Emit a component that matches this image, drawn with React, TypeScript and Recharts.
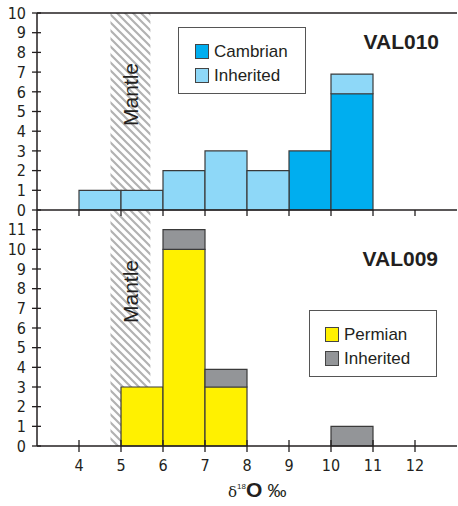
import { BarChart, Bar, XAxis, YAxis, ReferenceArea, ReferenceLine, Label, Legend } from 'recharts'

// bins of δ18O (‰), one unit wide, from 3 to 13
const binCenters = [3.5, 4.5, 5.5, 6.5, 7.5, 8.5, 9.5, 10.5, 11.5, 12.5]
const xTicks = [4, 5, 6, 7, 8, 9, 10, 11, 12]

// VAL010
const val010Cambrian = [0, 0, 0, 0, 0, 0, 3, 5.9, 0, 0]
const val010Inherited = [0, 1, 1, 2, 3, 2, 0, 1, 0, 0]
const val010Ticks = [0, 1, 2, 3, 4, 5, 6, 7, 8, 9, 10]

// VAL009
const val009Permian = [0, 0, 3, 10, 3, 0, 0, 0, 0, 0]
const val009Inherited = [0, 0, 0, 1, 0.9, 0, 0, 1, 0, 0]
const val009Ticks = [0, 1, 2, 3, 4, 5, 6, 7, 8, 9, 10, 11]

// mantle range
const mantleRange = [4.75, 5.7]

const top = binCenters.map((x, i) => ({ x, Cambrian: val010Cambrian[i], Inherited: val010Inherited[i] }))
const bottom = binCenters.map((x, i) => ({ x, Permian: val009Permian[i], Inherited: val009Inherited[i] }))

const INK = '#231f20'
const TICK_FONT = "'Liberation Sans Narrow', 'Arial Narrow', 'DejaVu Sans Condensed', sans-serif"
const FONT = "'Liberation Sans', Arial, sans-serif"

const YTick = (p: any) => (
  <g>
    <line x1={p.x - 5} x2={p.x + 4} y1={p.y} y2={p.y} stroke={INK} strokeWidth={1.3} />
    <text x={p.x - 11} y={p.y} dy="0.36em" textAnchor="end" fontSize={16} fontFamily={TICK_FONT} fill={INK}>
      {p.payload.value}
    </text>
  </g>
)

const TopXTick = (p: any) => (
  <line x1={p.x} x2={p.x} y1={p.y} y2={p.y + 6} stroke={INK} strokeWidth={1.3} />
)

const BottomXTick = (p: any) => (
  <g>
    <line x1={p.x} x2={p.x} y1={p.y - 6} y2={p.y + 6} stroke={INK} strokeWidth={1.3} />
    <text x={p.x} y={p.y + 25} textAnchor="middle" fontSize={16} fontFamily={TICK_FONT} fill={INK}>
      {p.payload.value}
    </text>
  </g>
)

const MantleLabel = ({ viewBox }: any) => {
  const cx = viewBox.x + viewBox.width / 2 + 8
  const ty = viewBox.y + 50
  return (
    <text x={cx} y={ty} transform={`rotate(-90 ${cx} ${ty})`} textAnchor="end" fontSize={21} fontFamily={FONT} fill={INK}>
      Mantle
    </text>
  )
}

const hatch = (id: string) => (
  <defs>
    <pattern id={id} patternUnits="userSpaceOnUse" width={8} height={8}>
      <path d="M0,0 L8,8 M-2,6 L2,10 M6,-2 L10,2" stroke="#b2b2b2" strokeWidth={2.2} />
    </pattern>
  </defs>
)

const legendBox = (order: string[], colors: Record<string, string>, w: number, h: number, padL: number, padT: number) =>
  () => (
    <div style={{ position: 'relative', width: w, height: h, boxSizing: 'border-box', border: '1.5px solid #555', background: '#fff', fontFamily: FONT, fontSize: 17, color: INK }}>
      {order.map((name, i) => (
        <div key={name} style={{ position: 'absolute', left: padL, top: padT + i * 24, height: 15, display: 'flex' }}>
          <span style={{ width: 14, height: 15, boxSizing: 'border-box', background: colors[name], border: '1.2px solid #444' }} />
          <span style={{ marginLeft: 5, marginTop: -2, lineHeight: '19px' }}>{name}</span>
        </div>
      ))}
    </div>
  )

export default function App() {
  return (
    <div style={{ position: 'absolute', left: 0, top: 0, width: 458, height: 506, background: '#fff', fontFamily: FONT }}>
      <div style={{ position: 'absolute', left: 0, top: 200 }}>
        <BarChart width={458} height={306} data={bottom} margin={{ top: 10, right: 1, bottom: 0, left: 0 }} barCategoryGap={0}>
          {hatch('hatch2')}
          <XAxis dataKey="x" type="number" domain={[3, 13]} ticks={xTicks} interval={0} height={60} tickSize={0} tickMargin={0} tickLine={false} tick={BottomXTick} stroke={INK} strokeWidth={1.5}>
            <Label
              content={({ viewBox }: any) => (
                <text x={228} y={viewBox.y + 51} fill={INK} fontFamily={FONT}>
                  <tspan fontSize={15} fontFamily="'DejaVu Serif', 'Liberation Serif', serif">δ</tspan>
                  <tspan fontSize={8} dy={-8}>18</tspan>
                  <tspan fontSize={21} dy={8} fontWeight="bold">O</tspan>
                  <tspan fontSize={19}> ‰</tspan>
                </text>
              )}
            />
          </XAxis>
          <YAxis type="number" domain={[0, 12]} ticks={val009Ticks} interval={0} width={37} tickSize={0} tickMargin={0} tickLine={false} tick={YTick} stroke={INK} strokeWidth={1.5} />
          <ReferenceArea x1={mantleRange[0]} x2={mantleRange[1]} fill="url(#hatch2)" fillOpacity={1} stroke="none" label={<MantleLabel />} />
          <Legend
            layout="horizontal"
            verticalAlign="middle"
            align="center"
            wrapperStyle={{ left: 309, top: 110, width: 128 }}
            content={legendBox(['Permian', 'Inherited'], { Permian: '#fff100', Inherited: '#939598' }, 128, 67, 15, 16)}
          />
          <Bar dataKey="Permian" stackId="a" fill="#fff100" stroke="#3a3a3a" strokeWidth={1.2} isAnimationActive={false} />
          <Bar dataKey="Inherited" stackId="a" fill="#939598" stroke="#3a3a3a" strokeWidth={1.2} isAnimationActive={false} />
          <text x={438} y={66} textAnchor="end" fontSize={21} fontWeight="bold" fontFamily={FONT} fill={INK}>VAL009</text>
        </BarChart>
      </div>
      <div style={{ position: 'absolute', left: 0, top: 0 }}>
        <BarChart width={458} height={220} data={top} margin={{ top: 13, right: 1, bottom: 0, left: 0 }} barCategoryGap={0}>
          {hatch('hatch1')}
          <XAxis dataKey="x" type="number" domain={[3, 13]} ticks={xTicks} interval={0} height={10} tickSize={0} tickMargin={0} tickLine={false} tick={TopXTick} stroke={INK} strokeWidth={1.5} />
          <YAxis type="number" domain={[0, 10]} ticks={val010Ticks} interval={0} width={37} tickSize={0} tickMargin={0} tickLine={false} tick={YTick} stroke={INK} strokeWidth={1.5} />
          <ReferenceArea x1={mantleRange[0]} x2={mantleRange[1]} fill="url(#hatch1)" fillOpacity={1} stroke="none" label={<MantleLabel />} />
          <ReferenceLine y={10} stroke={INK} strokeWidth={1.5} />
          <Legend
            layout="horizontal"
            verticalAlign="middle"
            align="center"
            wrapperStyle={{ left: 178, top: 27, width: 128 }}
            content={legendBox(['Cambrian', 'Inherited'], { Cambrian: '#00aeef', Inherited: '#8ed8f8' }, 128, 67, 16, 16)}
          />
          <Bar dataKey="Cambrian" stackId="a" fill="#00aeef" stroke="#3a3a3a" strokeWidth={1.2} isAnimationActive={false} />
          <Bar dataKey="Inherited" stackId="a" fill="#8ed8f8" stroke="#3a3a3a" strokeWidth={1.2} isAnimationActive={false} />
          <text x={439} y={49} textAnchor="end" fontSize={21} fontWeight="bold" fontFamily={FONT} fill={INK}>VAL010</text>
        </BarChart>
      </div>
    </div>
  )
}
